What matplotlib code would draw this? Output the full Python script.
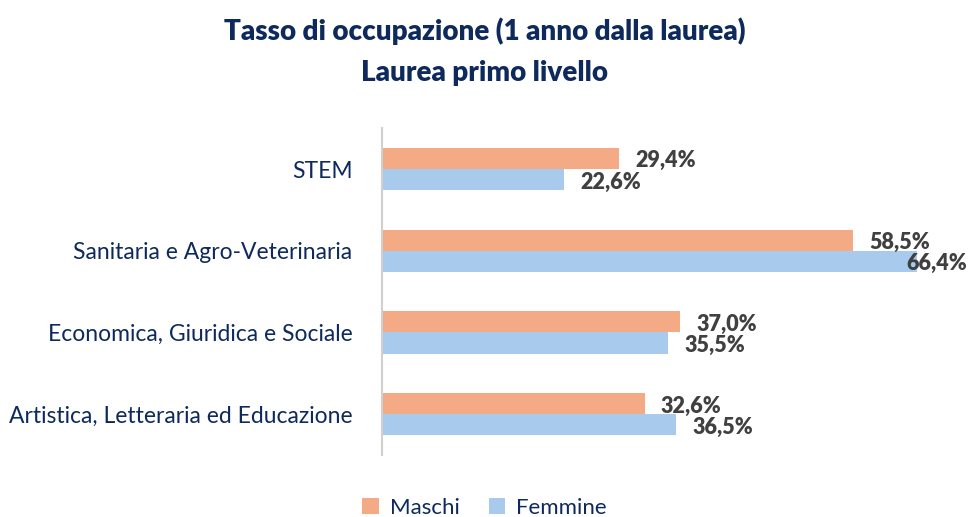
import numpy as np
import matplotlib.pyplot as plt

# Data
categories = ['STEM', 'Sanitaria e Agro-Veterinaria', 'Economica, Giuridica e Sociale',
              'Artistica, Letteraria ed Educazione']
maschi = [29.4, 58.5, 37.0, 32.6]
femmine = [22.6, 66.4, 35.5, 36.5]

navy = '#0E2A5C'
c_m = '#F4AA84'
c_f = '#A8CAEC'

plt.rcParams['font.family'] = ['Lato', 'DejaVu Sans']

fig = plt.figure(figsize=(9.69, 5.17), dpi=100)
ax = fig.add_axes([0.394, 0.12, 0.604, 0.632])

y = np.arange(len(categories))
h = 0.26
ax.barh(y - h / 2, maschi, height=h, color=c_m, label='Maschi')
ax.barh(y + h / 2, femmine, height=h, color=c_f, label='Femmine')

xmax = 72.6
ax.set_xlim(0, xmax)
ax.set_ylim(3.5, -0.5)

def fmt(v):
    return f'{v:.1f}%'.replace('.', ',')

# value labels (the longest one is pushed back inside the right edge)
for yy, vals in ((y - h / 2, maschi), (y + h / 2, femmine)):
    for yi, v in zip(yy, vals):
        if v + 9 > xmax:
            ax.text(xmax, yi + 0.03, fmt(v), ha='right', va='center',
                    fontsize=15.5, fontweight='heavy', color='#404040')
        else:
            ax.text(v + 2.0, yi + 0.03, fmt(v), ha='left', va='center',
                    fontsize=15.5, fontweight='heavy', color='#404040')

ax.set_yticks(y)
ax.set_yticklabels(categories, fontsize=16.5, color=navy)
ax.tick_params(axis='y', length=0, pad=21)
ax.set_xticks([])
for s in ['top', 'right', 'bottom']:
    ax.spines[s].set_visible(False)
ax.spines['left'].set_color('#D0D0D0')
ax.spines['left'].set_linewidth(1.5)

fig.text(0.5, 0.94, 'Tasso di occupazione (1 anno dalla laurea)', ha='center', va='center',
         fontsize=20, fontweight='heavy', color=navy)
fig.text(0.5, 0.858, 'Laurea primo livello', ha='center', va='center',
         fontsize=20, fontweight='heavy', color=navy)

fig.legend(loc='lower center', bbox_to_anchor=(0.5, -0.04), ncol=2, frameon=False,
           fontsize=16, labelcolor=navy, handlelength=0.75, handleheight=0.75,
           handletextpad=0.5, columnspacing=1.3)

fig.savefig('out.png', dpi=100)
